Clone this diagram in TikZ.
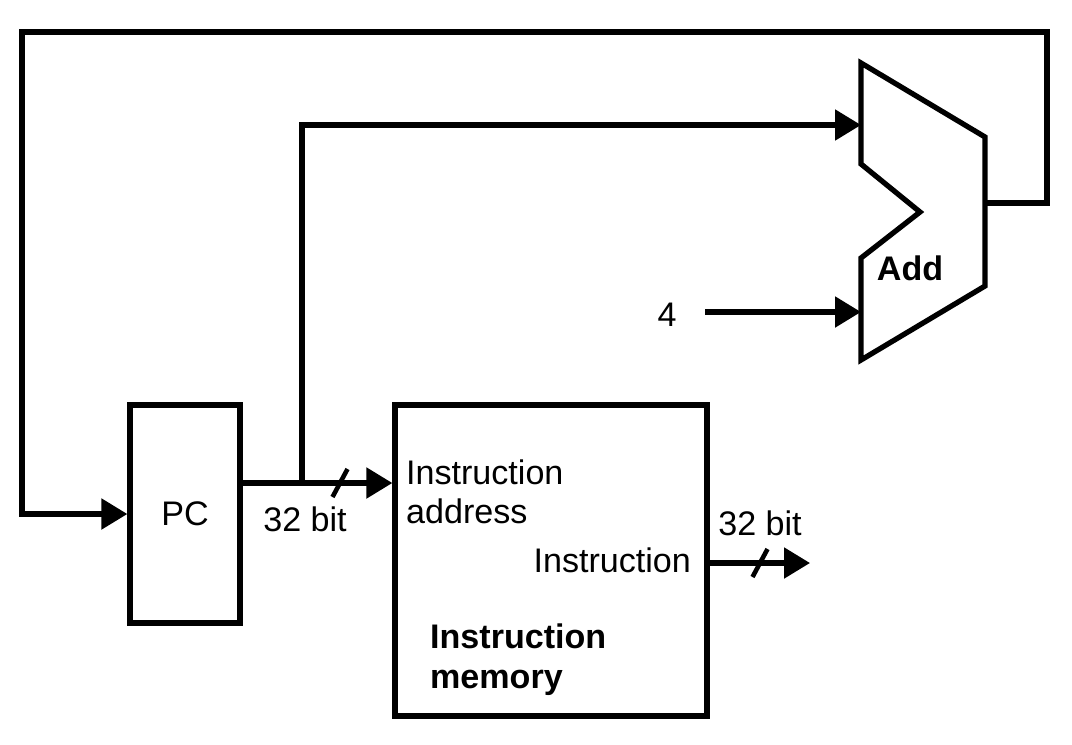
\documentclass[tikz,border=0pt]{standalone}
\usepackage{fontspec}
\setmainfont{Liberation Sans}
\usetikzlibrary{arrows.meta, positioning, calc}

\begin{document}
\begin{tikzpicture}[line width=1.5pt, >={Triangle[length=2.6mm,width=3mm]},
    lbl/.style={font=\fontsize{9.7}{11.2}\selectfont, inner sep=1pt},
    blk/.style={draw, line width=1.5pt, inner sep=0pt, lbl},
    busmark/.style={line width=1.3pt}]
    \useasboundingbox (0,0) rectangle (10.72,7.44);
    % blocks
    \node[blk, minimum width=1.10cm, minimum height=2.18cm] (pc) at (1.85,2.30) {PC};
    \node[blk, minimum width=3.12cm, minimum height=3.11cm] (imem) at (5.51,1.835) {};
    \draw (8.61,6.81) -- (9.85,6.07) -- (9.85,4.58) -- (8.61,3.84) -- (8.61,4.86)
      -- (9.20,5.32) -- (8.61,5.80) -- cycle;
    \coordinate (addA) at (8.61,6.19);
    \coordinate (addB) at (8.61,4.32);
    \coordinate (addOut) at (9.85,5.41);
    % labels
    \node[lbl, font=\fontsize{9.7}{11.2}\selectfont\bfseries] (addlbl) at (9.10,4.76) {Add};
    \node[lbl, align=left, anchor=west] (iaddr) at (4.00,2.52) {Instruction\\address};
    \node[lbl, anchor=east] (iout) at (6.97,1.84) {Instruction};
    \node[lbl, font=\fontsize{9.7}{11.4}\selectfont\bfseries, align=left, anchor=west] (imlbl) at (4.24,0.84) {Instruction\\memory};
    \node[lbl] (four) at (6.67,4.29) {4};
    \node[lbl] (w1) at (3.05,2.25) {32 bit};
    \node[lbl] (w2) at (7.60,2.21) {32 bit};
    % connections
    \coordinate (pcout) at ($(pc.east)+(0,0.31)$);
    \coordinate (split) at (3.02,2.61);
    \coordinate (instout) at (8.10,1.81);
    \draw[->] (pcout) -- (pcout -| imem.west);
    \draw[->] (split) |- (addA);
    \draw[->] (7.05,4.32) -- (addB);
    \draw[->] (instout -| imem.east) -- (instout);
    \draw[->] (addOut) -- (10.47,5.41) -- (10.47,7.12) -- (0.22,7.12) |- (pc.west);
    % bus width marks
    \coordinate (s1) at (3.40,2.61);
    \coordinate (s2) at (7.60,1.81);
    \foreach \s in {s1,s2}
      \draw[busmark] ([shift={(-0.075,-0.14)}]\s) -- ([shift={(0.075,0.14)}]\s);
\end{tikzpicture}
\end{document}
